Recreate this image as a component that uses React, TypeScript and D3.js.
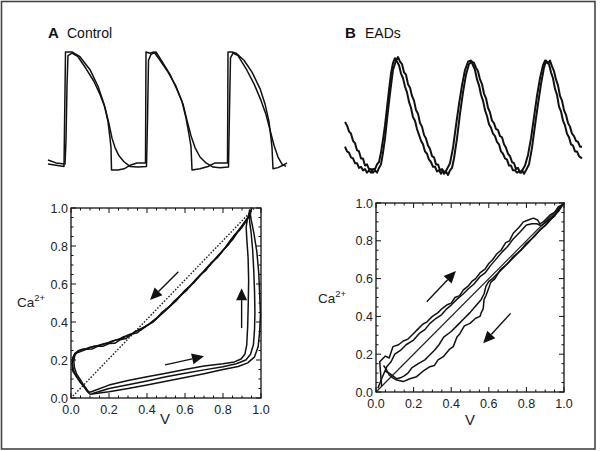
import React from "react";
import * as d3 from "d3";

// ---------- DATA ----------
// Panel A (Control) top traces: [time, normalized value]
const topAVoltage: [number, number][] = [
  [1, 0.05], [17, 0.03], [18.5, 1.0], [21, 1.0], [25, 1.0], [33, 0.96], [43, 0.85], [51, 0.71], [57, 0.56],
  [61, 0.41], [63, 0.27], [64, 0.19], [64.5, 0], [71, 0], [77, 0.01], [83, 0.04], [90, 0.06], [98.5, 0.06],
  [99, 1.0], [103, 0.99], [107, 1.0], [113, 0.93], [121, 0.83], [129, 0.71], [135, 0.58], [139, 0.44],
  [142, 0.3], [144, 0.2], [145, 0], [153, 0.01], [161, 0.03], [168, 0.06], [180.5, 0.06],
  [181, 1.0], [185, 1.0], [189, 0.99], [197, 0.93], [205, 0.83], [213, 0.69], [218, 0.56], [222, 0.41],
  [224, 0.27], [225, 0.19], [226, 0.01], [231, 0.02], [236, 0.04], [240, 0.06],
];
const topACalcium: [number, number][] = [
  [1, 0.085], [9, 0.06], [18, 0.05], [19, 0.25], [20, 0.72], [21, 0.97], [25, 0.99], [31, 0.96], [39, 0.86],
  [47, 0.75], [53, 0.64], [58, 0.53], [62, 0.39], [65, 0.27], [68, 0.19], [72, 0.12], [77, 0.07], [83, 0.03],
  [91, 0.025], [99.5, 0.03], [100.5, 0.42], [101.5, 0.93], [104, 0.98], [109, 1.0], [115, 0.92], [123, 0.81],
  [130, 0.68], [136, 0.56], [140, 0.42], [144, 0.29], [148, 0.19], [153, 0.11], [159, 0.06], [166, 0.025],
  [173, 0.02], [181.5, 0.025], [182.5, 0.51], [183.5, 0.95], [186, 0.99], [191, 0.97], [199, 0.86], [207, 0.73],
  [214, 0.59], [219, 0.47], [223, 0.34], [227, 0.21], [231, 0.11], [235, 0.05], [239, 0.03],
];

// Panel B (EADs) top traces
const topBCalcium: [number, number][] = [
  [0, 0.24], [2, 0.2], [4, 0.19], [6, 0.15], [8, 0.14], [10, 0.1], [12, 0.1], [14, 0.06], [16, 0.07],
  [18, 0.04], [20, 0.05], [22, 0.02], [24, 0.04], [26, 0.02], [28, 0.05], [30, 0.05], [32, 0.09], [34, 0.11],
  [36, 0.19], [38, 0.3], [40, 0.42], [42, 0.57], [44, 0.72], [46, 0.86], [48, 0.95], [50, 0.99], [52, 0.96],
  [54, 0.93], [56, 0.86], [58, 0.82], [60, 0.75], [62, 0.7], [64, 0.62], [66, 0.57], [68, 0.49], [70, 0.46],
  [72, 0.39], [74, 0.34], [76, 0.29], [78, 0.26], [80, 0.2], [82, 0.18], [84, 0.13], [86, 0.11], [88, 0.07],
  [90, 0.07], [92, 0.03], [94, 0.04], [96, 0.01], [98, 0.04], [100, 0.02], [102, 0.05], [105, 0.1],
  [108, 0.23], [111, 0.42], [114, 0.6], [117, 0.76], [120, 0.89], [123, 0.96], [126, 0.97], [128, 0.93],
  [130, 0.89], [132, 0.81], [134, 0.76], [136, 0.68], [138, 0.63], [140, 0.55], [142, 0.5], [144, 0.43],
  [146, 0.4], [148, 0.35], [150, 0.33], [152, 0.28], [154, 0.26], [156, 0.2], [158, 0.18], [160, 0.14],
  [162, 0.13], [164, 0.08], [166, 0.08], [168, 0.04], [170, 0.04], [172, 0.02], [174, 0.03], [176, 0.02],
  [178, 0.05], [180, 0.08], [183, 0.17], [186, 0.31], [189, 0.49], [192, 0.67], [195, 0.82], [198, 0.93],
  [200, 0.97], [202, 0.95], [204, 0.94], [206, 0.87], [208, 0.82], [210, 0.73], [212, 0.68], [214, 0.58],
  [216, 0.54], [218, 0.46], [220, 0.42], [222, 0.35], [224, 0.32], [226, 0.26], [228, 0.25], [230, 0.2],
  [232, 0.2], [234, 0.16], [237, 0.14],
];
const topBVoltage: [number, number][] = [
  [0, 0.45], [2, 0.42], [4, 0.37], [6, 0.35], [8, 0.29], [10, 0.27], [12, 0.21], [14, 0.2], [16, 0.14],
  [18, 0.14], [20, 0.08], [22, 0.09], [24, 0.05], [26, 0.05], [28, 0.02], [30, 0.04], [32, 0.02], [34, 0.06],
  [36, 0.09], [38, 0.19], [40, 0.31], [42, 0.47], [44, 0.62], [46, 0.76], [48, 0.89], [51, 0.97], [53, 1.0],
  [55, 0.96], [57, 0.94], [59, 0.87], [61, 0.85], [63, 0.77], [65, 0.74], [67, 0.67], [69, 0.63], [71, 0.55],
  [73, 0.52], [75, 0.44], [77, 0.41], [79, 0.34], [81, 0.31], [83, 0.25], [85, 0.22], [87, 0.16], [89, 0.15],
  [91, 0.09], [93, 0.09], [95, 0.04], [97, 0.05], [99, 0.01], [101, 0.03], [103, 0.0], [105, 0.04],
  [107, 0.06], [109, 0.14], [112, 0.31], [115, 0.52], [118, 0.7], [121, 0.85], [124, 0.94], [127, 0.96],
  [129, 0.95], [131, 0.91], [133, 0.88], [135, 0.81], [137, 0.77], [139, 0.69], [141, 0.65], [143, 0.57],
  [145, 0.53], [147, 0.46], [149, 0.44], [151, 0.39], [153, 0.38], [155, 0.33], [157, 0.32], [159, 0.26],
  [161, 0.23], [163, 0.18], [165, 0.16], [167, 0.11], [169, 0.1], [171, 0.05], [173, 0.06], [175, 0.02],
  [177, 0.04], [179, 0.01], [181, 0.04], [184, 0.09], [187, 0.23], [190, 0.42], [193, 0.6], [196, 0.77],
  [199, 0.91], [201, 0.97], [203, 0.95], [205, 0.97], [207, 0.92], [209, 0.88], [211, 0.81], [213, 0.76],
  [215, 0.67], [217, 0.63], [219, 0.55], [221, 0.51], [223, 0.44], [225, 0.41], [227, 0.35], [229, 0.33],
  [231, 0.29], [233, 0.28], [235, 0.24], [237, 0.24],
];

// Phase plots: [V, Ca]
const phaseA1: [number, number][] = [
  [0.1, 0.02], [0.2, 0.033], [0.3, 0.05], [0.4, 0.068], [0.5, 0.088], [0.6, 0.108], [0.7, 0.128], [0.8, 0.15],
  [0.88, 0.166], [0.93, 0.185], [0.965, 0.215], [0.985, 0.27], [0.993, 0.35], [0.997, 0.44], [0.993, 0.55],
  [0.988, 0.66], [0.978, 0.77], [0.962, 0.87], [0.948, 0.94], [0.94, 0.99], [0.935, 0.955], [0.915, 0.928],
  [0.89, 0.887], [0.86, 0.857], [0.83, 0.808], [0.8, 0.778], [0.77, 0.738], [0.74, 0.713], [0.71, 0.672],
  [0.68, 0.648], [0.65, 0.612], [0.62, 0.583], [0.59, 0.552], [0.56, 0.523], [0.53, 0.492], [0.5, 0.468],
  [0.47, 0.437], [0.44, 0.413], [0.41, 0.387], [0.38, 0.372], [0.35, 0.343], [0.32, 0.337], [0.29, 0.313],
  [0.26, 0.307], [0.23, 0.288], [0.2, 0.287], [0.17, 0.273], [0.14, 0.272], [0.11, 0.258], [0.08, 0.256],
  [0.05, 0.244], [0.025, 0.235], [0.012, 0.21], [0.008, 0.18], [0.012, 0.15], [0.025, 0.12], [0.045, 0.09],
  [0.06, 0.07], [0.075, 0.05], [0.085, 0.035], [0.095, 0.025], [0.1, 0.02],
];
const phaseA2: [number, number][] = [
  [0.11, 0.022], [0.2, 0.05], [0.3, 0.07], [0.4, 0.09], [0.5, 0.112], [0.6, 0.13], [0.7, 0.148], [0.8, 0.165],
  [0.87, 0.18], [0.92, 0.2], [0.945, 0.23], [0.96, 0.28], [0.966, 0.36], [0.968, 0.45], [0.966, 0.56],
  [0.962, 0.67], [0.956, 0.78], [0.948, 0.87], [0.94, 0.93], [0.945, 0.975], [0.95, 1.0], [0.94, 0.962],
  [0.92, 0.933], [0.9, 0.907], [0.87, 0.868], [0.84, 0.832], [0.81, 0.788], [0.78, 0.757], [0.75, 0.723],
  [0.72, 0.692], [0.69, 0.658], [0.66, 0.627], [0.63, 0.593], [0.6, 0.567], [0.57, 0.533], [0.54, 0.507],
  [0.51, 0.473], [0.48, 0.452], [0.45, 0.418], [0.42, 0.397], [0.39, 0.373], [0.36, 0.362], [0.33, 0.343],
  [0.3, 0.332], [0.27, 0.313], [0.24, 0.307], [0.21, 0.293], [0.18, 0.287], [0.15, 0.276], [0.12, 0.272],
  [0.09, 0.26], [0.06, 0.257], [0.035, 0.245], [0.02, 0.225], [0.015, 0.195], [0.018, 0.16], [0.03, 0.125],
  [0.05, 0.095], [0.065, 0.07], [0.08, 0.05], [0.09, 0.035], [0.1, 0.03],
];
const phaseA3: [number, number][] = [
  [0.1, 0.03], [0.2, 0.068], [0.3, 0.092], [0.4, 0.112], [0.5, 0.13], [0.6, 0.15], [0.7, 0.168], [0.8, 0.18],
  [0.86, 0.19], [0.895, 0.205], [0.915, 0.23], [0.925, 0.28], [0.93, 0.38], [0.933, 0.5], [0.935, 0.62],
  [0.932, 0.74], [0.925, 0.84], [0.922, 0.9], [0.93, 0.95], [0.94, 0.97], [0.935, 0.95], [0.92, 0.927],
  [0.9, 0.898], [0.88, 0.877], [0.85, 0.833], [0.82, 0.802], [0.79, 0.763], [0.76, 0.732], [0.73, 0.698],
  [0.7, 0.667], [0.67, 0.633], [0.64, 0.602], [0.61, 0.568], [0.58, 0.542], [0.55, 0.508], [0.52, 0.482],
  [0.49, 0.453], [0.46, 0.427], [0.43, 0.398], [0.4, 0.382], [0.37, 0.358], [0.34, 0.352], [0.31, 0.328],
  [0.28, 0.324], [0.25, 0.308], [0.22, 0.302], [0.19, 0.288], [0.16, 0.282], [0.13, 0.273], [0.1, 0.267],
  [0.07, 0.256], [0.04, 0.25], [0.02, 0.235], [0.008, 0.21], [0.005, 0.18], [0.01, 0.14], [0.03, 0.11],
  [0.05, 0.08], [0.07, 0.06], [0.085, 0.04], [0.095, 0.03],
];
const diagonalA: [number, number][] = [[0.01, 0.01], [0.965, 1.0]];

const phaseB1: [number, number][] = [
  [0.03, 0.03], [0.025, 0.09], [0.02, 0.16], [0.05, 0.19], [0.07, 0.18], [0.09, 0.24], [0.12, 0.25],
  [0.145, 0.27], [0.17, 0.28], [0.2, 0.31], [0.22, 0.33], [0.25, 0.36], [0.27, 0.37], [0.3, 0.4], [0.33, 0.42],
  [0.35, 0.44], [0.376, 0.46], [0.4, 0.47], [0.42, 0.5], [0.445, 0.51], [0.465, 0.54], [0.49, 0.56],
  [0.51, 0.585], [0.53, 0.6], [0.553, 0.63], [0.58, 0.65], [0.6, 0.68], [0.62, 0.7], [0.642, 0.73],
  [0.665, 0.75], [0.69, 0.79], [0.71, 0.8], [0.73, 0.84], [0.76, 0.87], [0.784, 0.9], [0.81, 0.91],
  [0.837, 0.92], [0.86, 0.91], [0.872, 0.89], [0.89, 0.9], [0.91, 0.92], [0.93, 0.94], [0.95, 0.95],
  [0.97, 0.98], [0.99, 0.99], [0.97, 0.965], [0.95, 0.93], [0.93, 0.915], [0.9, 0.88], [0.87, 0.855],
  [0.84, 0.82], [0.8, 0.787], [0.77, 0.75], [0.73, 0.716], [0.7, 0.68], [0.66, 0.645], [0.645, 0.62],
  [0.633, 0.6], [0.61, 0.58], [0.6, 0.55], [0.585, 0.51], [0.575, 0.49], [0.57, 0.44], [0.56, 0.42],
  [0.553, 0.4], [0.53, 0.39], [0.5, 0.363], [0.47, 0.35], [0.447, 0.31], [0.43, 0.29], [0.411, 0.24],
  [0.39, 0.225], [0.358, 0.187], [0.33, 0.17], [0.31, 0.14], [0.287, 0.134], [0.25, 0.11], [0.216, 0.081],
  [0.18, 0.07], [0.145, 0.055], [0.11, 0.063], [0.09, 0.075], [0.07, 0.09], [0.055, 0.12], [0.04, 0.14],
];
const phaseB2: [number, number][] = [
  [0.01, 0.02], [0.03, 0.07], [0.057, 0.134], [0.08, 0.16], [0.1, 0.2], [0.13, 0.22], [0.16, 0.25],
  [0.2, 0.275], [0.23, 0.31], [0.26, 0.33], [0.287, 0.363], [0.32, 0.39], [0.35, 0.41], [0.376, 0.44],
  [0.4, 0.46], [0.43, 0.49], [0.465, 0.52], [0.49, 0.545], [0.52, 0.57], [0.553, 0.61], [0.58, 0.63],
  [0.61, 0.67], [0.642, 0.707], [0.67, 0.74], [0.7, 0.77], [0.73, 0.81], [0.76, 0.84], [0.8, 0.884],
  [0.83, 0.89], [0.855, 0.89], [0.88, 0.88], [0.9, 0.895], [0.93, 0.92], [0.96, 0.95], [0.98, 0.975],
  [1.0, 1.0], [0.97, 0.955], [0.94, 0.925], [0.91, 0.89], [0.88, 0.865], [0.85, 0.835], [0.81, 0.79],
  [0.78, 0.76], [0.74, 0.72], [0.7, 0.68], [0.67, 0.65], [0.64, 0.62], [0.62, 0.6], [0.6, 0.585],
  [0.585, 0.56], [0.575, 0.52], [0.56, 0.49], [0.53, 0.455], [0.5, 0.42], [0.47, 0.39], [0.43, 0.35],
  [0.4, 0.32], [0.36, 0.29], [0.335, 0.25], [0.31, 0.22], [0.28, 0.19], [0.26, 0.17], [0.225, 0.15],
  [0.19, 0.127], [0.17, 0.1], [0.15, 0.085], [0.13, 0.075], [0.11, 0.07], [0.09, 0.085], [0.07, 0.1],
  [0.05, 0.11],
];
const diagonalB: [number, number][] = [[0, 0], [1, 1]];

// Arrows: [tailV, tailCa, tipV, tipCa]
const arrowsA: [number, number, number, number][] = [
  [0.565, 0.665, 0.416, 0.516],
  [0.898, 0.368, 0.898, 0.578],
  [0.495, 0.174, 0.7, 0.22],
];
const arrowsB: [number, number, number, number][] = [
  [0.27, 0.478, 0.425, 0.64],
  [0.716, 0.416, 0.57, 0.258],
];

const tickLabels = ["0.0", "0.2", "0.4", "0.6", "0.8", "1.0"];
const tickValues = [0, 0.2, 0.4, 0.6, 0.8, 1.0];
const minorTickValues = d3.range(0, 1.0001, 0.05);

const FONT = "'Liberation Sans', Arial, Helvetica, sans-serif";

type Box = { left: number; right: number; top: number; bottom: number };

function PhasePlot({
  box, loops, diag, diagDotted, arrows, vLabelX, vLabelY, caX, caY,
}: {
  box: Box; loops: [number, number][][]; diag: [number, number][]; diagDotted: boolean;
  arrows: [number, number, number, number][]; vLabelX: number; vLabelY: number; caX: number; caY: number;
}) {
  const x = d3.scaleLinear().domain([0, 1]).range([box.left, box.right]);
  const y = d3.scaleLinear().domain([0, 1]).range([box.bottom, box.top]);
  const line = d3.line<[number, number]>().x((d) => x(d[0])).y((d) => y(d[1]));
  const ticks: any[] = [];
  minorTickValues.forEach((v, i) => {
    const major = Math.abs(v * 5 - Math.round(v * 5)) < 1e-6;
    const len = major ? 5 : 2.5;
    const px = x(v);
    const py = y(v);
    ticks.push(
      <line key={`b${i}`} x1={px} x2={px} y1={box.bottom} y2={box.bottom - len} />,
      <line key={`t${i}`} x1={px} x2={px} y1={box.top} y2={box.top + len} />,
      <line key={`l${i}`} x1={box.left} x2={box.left + len} y1={py} y2={py} />,
      <line key={`r${i}`} x1={box.right} x2={box.right - len} y1={py} y2={py} />
    );
  });
  return (
    <g>
      <path
        d={line(diag) || ""}
        fill="none"
        stroke="#222"
        strokeWidth={diagDotted ? 1.4 : 1.2}
        strokeDasharray={diagDotted ? "1.6,1.6" : undefined}
      />
      {loops.map((l, i) => (
        <path key={i} d={line(l) || ""} fill="none" stroke="#111" strokeWidth={1.5} strokeLinejoin="round" />
      ))}
      {arrows.map((a, i) => {
        const x1 = x(a[0]), y1 = y(a[1]), x2 = x(a[2]), y2 = y(a[3]);
        const ang = Math.atan2(y2 - y1, x2 - x1);
        const L = 12, W = 5.5;
        const bx = x2 - L * Math.cos(ang), by = y2 - L * Math.sin(ang);
        const pts = [
          [x2, y2],
          [bx + W * Math.sin(ang), by - W * Math.cos(ang)],
          [bx - W * Math.sin(ang), by + W * Math.cos(ang)],
        ];
        return (
          <g key={i}>
            <line x1={x1} y1={y1} x2={bx} y2={by} stroke="#111" strokeWidth={1.4} />
            <polygon points={pts.map((p) => p.join(",")).join(" ")} fill="#111" />
          </g>
        );
      })}
      <g stroke="#111" strokeWidth={1}>{ticks}</g>
      <rect x={box.left} y={box.top} width={box.right - box.left} height={box.bottom - box.top}
        fill="none" stroke="#111" strokeWidth={1.3} />
      <g fontFamily={FONT} fontSize={12.5} fill="#222">
        {tickValues.map((v, i) => (
          <text key={`yl${i}`} x={box.left - 3} y={y(v) + 4.5} textAnchor="end">{tickLabels[i]}</text>
        ))}
        {tickValues.map((v, i) => (
          <text key={`xl${i}`} x={x(v)} y={box.bottom + 16} textAnchor="middle">{tickLabels[i]}</text>
        ))}
      </g>
      <text x={vLabelX} y={vLabelY} fontFamily={FONT} fontSize={15} textAnchor="middle" fill="#222">V</text>
      <text x={caX} y={caY} fontFamily={FONT} fontSize={13.5} fill="#222">
        Ca<tspan dy={-6} fontSize={9.5}>2+</tspan>
      </text>
    </g>
  );
}

function Traces({
  series, xRange, yRange, width,
}: {
  series: [number, number][][]; xRange: [number, number]; yRange: [number, number]; width: number;
}) {
  const x = d3.scaleLinear().domain([0, 240]).range(xRange);
  const y = d3.scaleLinear().domain([0, 1]).range(yRange);
  const line = d3.line<[number, number]>().x((d) => x(d[0])).y((d) => y(d[1]));
  return (
    <g>
      {series.map((s, i) => (
        <path key={i} d={line(s) || ""} fill="none" stroke="#111" strokeWidth={width}
          strokeLinejoin="round" />
      ))}
    </g>
  );
}

export default function App() {
  const boxA: Box = { left: 71, right: 261, top: 208, bottom: 398 };
  const boxB: Box = { left: 376, right: 564, top: 203, bottom: 392 };
  return (
    <svg width={601} height={451} style={{ position: "fixed", left: 0, top: 0, background: "#fff" }}>
      <rect x={0} y={0} width={601} height={451} fill="#fff" />
      <rect x={1.5} y={1.5} width={593.5} height={447.5} fill="none" stroke="#444" strokeWidth={1.6} />
      <g fontFamily={FONT} fill="#111">
        <text x={48} y={38} fontSize={15} fontWeight="bold">A</text>
        <text x={67} y={38} fontSize={14}>Control</text>
        <text x={345} y={38} fontSize={15} fontWeight="bold">B</text>
        <text x={365} y={38} fontSize={14}>EADs</text>
      </g>
      <Traces series={[topAVoltage, topACalcium]} xRange={[47, 287]} yRange={[170, 52]} width={1.5} />
      <Traces series={[topBVoltage, topBCalcium]} xRange={[345, 585]} yRange={[175, 57]} width={2} />
      <PhasePlot box={boxA} loops={[phaseA1, phaseA2, phaseA3]} diag={diagonalA} diagDotted={true}
        arrows={arrowsA} vLabelX={165} vLabelY={424} caX={17} caY={307} />
      <PhasePlot box={boxB} loops={[phaseB1, phaseB2]} diag={diagonalB} diagDotted={false}
        arrows={arrowsB} vLabelX={470} vLabelY={425} caX={318} caY={303} />
    </svg>
  );
}
